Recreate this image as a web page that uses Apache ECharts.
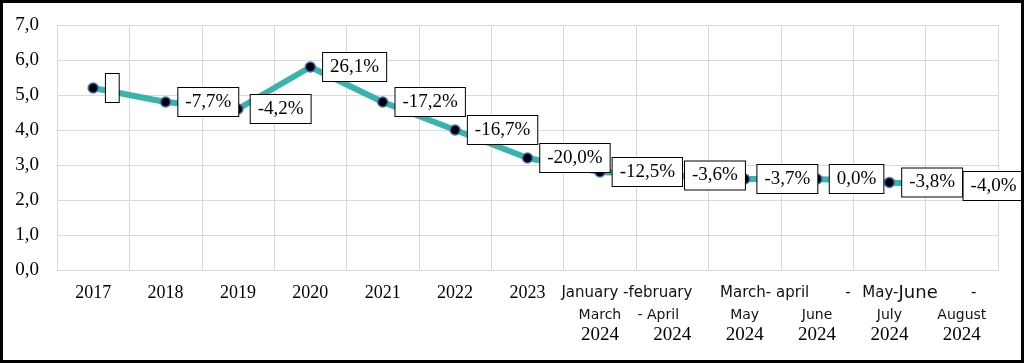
<!DOCTYPE html>
<html>
<head>
<meta charset="utf-8">
<script src="https://cdn.jsdelivr.net/npm/echarts@6/dist/echarts.min.js"></script>
<style>
html,body{margin:0;padding:0;background:#fff;}
#chart{width:1024px;height:363px;}
</style>
</head>
<body>
<div id="chart"></div>
<script>
// ---- data ----
const categories = ['2017','2018','2019','2020','2021','2022','2023',
  'January-February 2024','March-April 2024','May 2024','June 2024','July 2024','August 2024'];
const values = [5.2, 4.8, 4.6, 5.8, 4.8, 4.0, 3.2, 2.8, 2.7, 2.6, 2.6, 2.5, 2.4];
const changeLabels = ['', '-7,7%', '-4,2%', '26,1%', '-17,2%', '-16,7%', '-20,0%',
  '-12,5%', '-3,6%', '-3,7%', '0,0%', '-3,8%', '-4,0%'];
const yearTicks = ['2017','2018','2019','2020','2021','2022','2023'];
const topRowText = ['', '', '', '', '', '', '', 'January -february', '', 'March- april', '-', 'May-June -', ''];
const monthRowText = ['', '', '', '', '', '', '', 'March', '- April', 'May', 'June', 'July', 'August'];
const subYear = '2024';
const yTicks = [0, 1, 2, 3, 4, 5, 6, 7];

// ---- styles ----
const serif = 'Liberation Serif';
const sans = 'DejaVu Sans';
const topShift = {7: 54, 9: 40, 10: 62, 11: 60};

function xLabel(value, index) {
  if (index < yearTicks.length) return '{yr|' + yearTicks[index] + '}';
  const top = topRowText[index];
  const key = 't' + (topShift[index] != null ? index : '');
  let line1;
  if (!top) {
    line1 = '{t| }';
  } else if (top.indexOf('June') >= 0) {
    const parts = top.split('June');
    line1 = '{' + key + '|' + parts[0] + '}{tj|June}{t|' + parts[1].replace(' ', '       ') + '}';
  } else {
    line1 = '{' + key + '|' + top + '}';
  }
  const mKey = index === 8 ? 'm8' : 'm';
  return line1 + '\n{' + mKey + '|' + monthRowText[index] + '}\n{y|' + subYear + '}';
}

const rich = {
  yr: {fontFamily: serif, fontSize: 18, color: '#000', lineHeight: 24},
  t: {fontFamily: sans, fontSize: 15, color: '#111', lineHeight: 24},
  tj: {fontFamily: sans, fontSize: 18, color: '#111', lineHeight: 24},
  m: {fontFamily: sans, fontSize: 14, color: '#111', lineHeight: 20},
  m8: {fontFamily: sans, fontSize: 14, color: '#111', lineHeight: 20, padding: [0, 28, 0, 0]},
  y: {fontFamily: serif, fontSize: 19, color: '#000', lineHeight: 20}
};
Object.keys(topShift).forEach(function (k) {
  rich['t' + k] = Object.assign({}, rich.t, {padding: [0, 0, 0, topShift[k]]});
});

const seriesData = values.map(function (v, i) {
  const item = {value: v};
  if (i === 0) item.label = {padding: [4, 4]};
  if (i === values.length - 1) item.label = {offset: [-11, 0]};
  return item;
});

const chart = echarts.init(document.getElementById('chart'), null, {renderer: 'canvas'});
chart.setOption({
  backgroundColor: '#fff',
  animation: false,
  grid: {left: 57, right: 26, top: 25, bottom: 93, containLabel: false},
  xAxis: {
    type: 'category',
    data: categories,
    boundaryGap: true,
    axisLine: {show: true, lineStyle: {color: '#d9d9d9', width: 1}},
    axisTick: {show: false},
    splitLine: {show: true, lineStyle: {color: '#d9d9d9', width: 1}},
    axisLabel: {interval: 0, margin: 11, formatter: xLabel, rich: rich, color: '#000'}
  },
  yAxis: {
    type: 'value',
    min: yTicks[0],
    max: yTicks[yTicks.length - 1],
    interval: 1,
    axisLine: {show: false},
    axisTick: {show: false},
    splitLine: {show: true, lineStyle: {color: '#d9d9d9', width: 1}},
    axisLabel: {
      margin: 18,
      fontFamily: serif,
      fontSize: 19,
      color: '#000',
      formatter: function (v) { return v.toFixed(1).replace('.', ','); }
    }
  },
  series: [{
    type: 'line',
    data: seriesData,
    symbol: 'circle',
    symbolSize: 10,
    lineStyle: {color: '#38b3ad', width: 6},
    itemStyle: {color: '#000', borderColor: '#4472c4', borderWidth: 1.5},
    z: 3,
    label: {
      show: true,
      position: 'right',
      distance: 7,
      formatter: function (p) { return changeLabels[p.dataIndex] || ' '; },
      fontFamily: serif,
      fontSize: 19,
      color: '#000',
      lineHeight: 20,
      backgroundColor: '#fff',
      borderColor: '#000',
      borderWidth: 1,
      padding: [4, 7]
    }
  }],
  graphic: [{
    type: 'rect',
    z: 100,
    silent: true,
    shape: {x: 1.5, y: 1.5, width: 1021, height: 360},
    style: {fill: 'none', stroke: '#000', lineWidth: 3}
  }]
});
</script>
</body>
</html>
